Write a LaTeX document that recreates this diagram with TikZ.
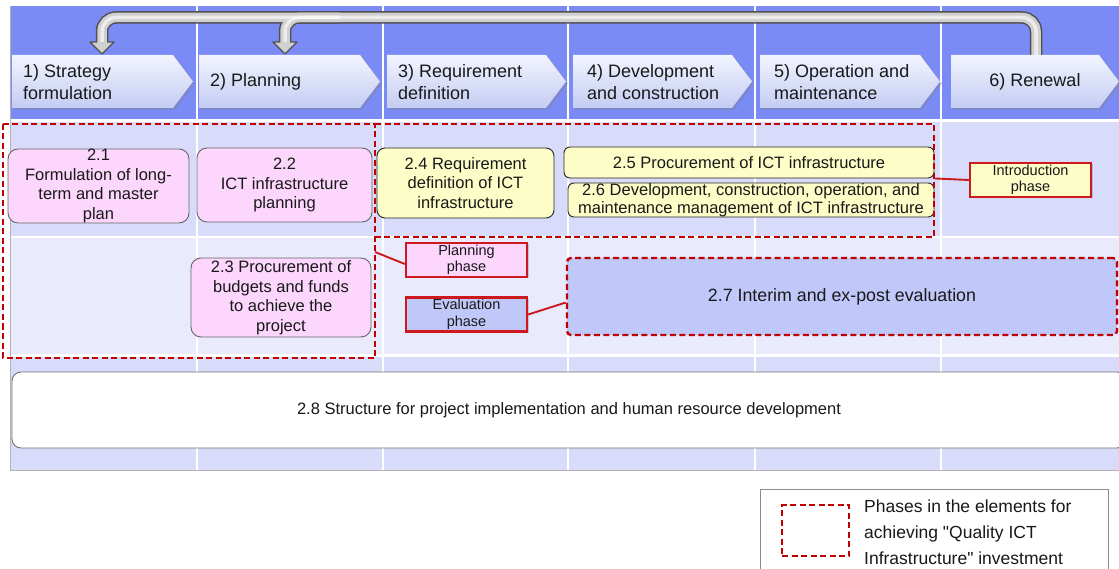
\documentclass[tikz,border=0pt]{standalone}
\usepackage{fontspec}
\setmainfont{Liberation Sans}[Ligatures=TeXOff]
\usetikzlibrary{shadows,calc}
\definecolor{hdr}{RGB}{122,139,245}
\definecolor{rowA}{RGB}{216,220,250}
\definecolor{rowB}{RGB}{233,235,252}
\definecolor{pinkf}{RGB}{252,214,252}
\definecolor{yelf}{RGB}{253,253,200}
\definecolor{bluef}{RGB}{192,200,250}
\definecolor{dred}{RGB}{192,0,0}
\definecolor{lred}{RGB}{205,25,30}
\definecolor{chevtop}{RGB}{242,244,254}
\definecolor{chevbot}{RGB}{196,204,243}
\definecolor{tubedark}{RGB}{80,80,80}
\definecolor{tubelight}{RGB}{208,208,208}
\begin{document}
\begin{tikzpicture}[x=1pt,y=-1pt,
  phasebox/.style={draw=dred, line width=2.4pt, dash pattern=on 6pt off 3.5pt},
  elem/.style={draw=black!60, line width=0.9pt, rounded corners=10pt, align=center, inner sep=0pt, text=black!90, font=\fontsize{16.5}{19.5}\selectfont},
  pinkbox/.style={elem, fill=pinkf},
  yelbox/.style={elem, fill=yelf, draw=black!85, rounded corners=8pt},
  tag/.style={draw=lred, line width=2.4pt, inner sep=0pt, align=center, text=black!90, font=\fontsize{14.5}{16.5}\selectfont, minimum width=121pt, minimum height=34pt, drop shadow={shadow xshift=1.5pt, shadow yshift=-1.5pt, opacity=0.35}},
  chev/.style={top color=chevtop, bottom color=chevbot, drop shadow={shadow xshift=2pt, shadow yshift=-2pt, opacity=0.35}},
  chevtext/.style={anchor=west, align=left, inner sep=0pt, text=black!90, font=\fontsize{18}{22}\selectfont},
  link/.style={draw=lred, line width=1.9pt},
  tubeout/.style={draw=tubedark, line width=12.5pt, rounded corners=14pt},
  tubein/.style={draw=tubelight, line width=9.5pt, rounded corners=14pt},
  tubehi/.style={draw=white, line width=3.5pt, rounded corners=14pt, opacity=0.6},
  arrowhd/.style={fill=tubelight, draw=tubedark, line width=1.3pt, line join=round},
]
\useasboundingbox (0,0) rectangle (1119,569);
\fill[white] (0,0) rectangle (1119,569);
% bands
\fill[hdr] (10,6) rectangle (1119,119);
\fill[rowA] (10,122) rectangle (1119,236);
\fill[rowB] (10,238.5) rectangle (1119,354);
\fill[rowA] (10,356.5) rectangle (1119,470);
\foreach \x in {197,383,568,755,941} \draw[white, line width=1.5pt] (\x,6) -- (\x,470);
\draw[black!30, line width=1pt] (10,6) -- (10,470) -- (1119,470);
% tubes
\draw[tubeout] (1036,60) -- (1036,17.5) -- (102,17.5) -- (102,44);
\draw[tubeout] (340,17.5) -- (285,17.5) -- (285,44);
\draw[arrowhd] (90,42) -- (114,42) -- (102,54) -- cycle;
\draw[arrowhd] (273,42) -- (297,42) -- (285,54) -- cycle;
\draw[tubein] (1036,60) -- (1036,17.5) -- (102,17.5) -- (102,44);
\draw[tubein] (340,17.5) -- (285,17.5) -- (285,44);
\draw[tubehi] (1036,60) -- (1036,17.5) -- (102,17.5) -- (102,42);
\draw[tubehi] (340,17.5) -- (285,17.5) -- (285,42);
% chevrons
\foreach \a/\b in {12/193, 199/380, 387/566, 573/752, 760/940}
  \path[chev] (\a,55) -- (\b-20,55) -- (\b,81.5) -- (\b-20,108) -- (\a,108) -- cycle;
\path[chev] (951,55) -- (1099,55) -- (1119,81.5) -- (1099,108) -- (951,108) -- cycle;
\node[chevtext] (p1) at (23,82) {1) Strategy\\formulation};
\node[chevtext] (p2) at (210,82) {2) Planning};
\node[chevtext] (p3) at (398,82) {3) Requirement\\definition};
\node[chevtext] (p4) at (587,82) {4) Development\\and construction};
\node[chevtext] (p5) at (774,82) {5) Operation and\\maintenance};
\node[chevtext, anchor=center, align=center] (p6) at (1035,82) {6) Renewal};
% elements
\node[pinkbox, minimum width=181pt, minimum height=74pt] (n21) at (98.5,186) {2.1\\Formulation of long-\\term and master\\plan};
\node[pinkbox, minimum width=175pt, minimum height=74pt] (n22) at (284.5,185) {2.2\\ICT infrastructure\\planning};
\node[pinkbox, minimum width=180pt, minimum height=79pt] (n23) at (281,297.5) {2.3 Procurement of\\budgets and funds\\to achieve the\\project};
\node[yelbox, minimum width=177pt, minimum height=70pt] (n24) at (465.5,183) {2.4 Requirement\\definition of ICT\\infrastructure};
\node[yelbox, rounded corners=6pt, minimum width=370pt, minimum height=31pt] (n25) at (749,162.5) {2.5 Procurement of ICT infrastructure};
\node[yelbox, rounded corners=6pt, minimum width=366pt, minimum height=34pt, font=\fontsize{16.5}{18.5}\selectfont] (n26) at (751,200) {2.6 Development, construction, operation, and\\maintenance management of ICT infrastructure};
\node[elem, phasebox, fill=bluef, rounded corners=4pt, minimum width=550pt, minimum height=77pt, font=\fontsize{17.8}{20}\selectfont] (n27) at (842,296.5) {2.7 Interim and ex-post evaluation};
\node[elem, fill=white, draw=black!55, rounded corners=9pt, minimum width=1114pt, minimum height=76pt] (n28) at (569,410) {2.8 Structure for project implementation and human resource development};
% phase regions
\draw[phasebox] (3,124) rectangle (375,358);
\draw[phasebox] (375,124) -- (934,124) -- (934,237) -- (375,237);
\coordinate (pj) at (375,252);
% tags
\node[tag, fill=yelf] (lintro) at (1030.5,180) {Introduction\\phase};
\node[tag, fill=pinkf] (lplan) at (466.5,260) {Planning\\phase};
\node[tag, fill=bluef] (leval) at (466.5,314.5) {Evaluation\\phase};
\draw[link] (n25.south east) -- (lintro.west);
\draw[link] (pj) -- ([yshift=-4pt]lplan.west);
\draw[link] (leval.east) -- ([yshift=-6pt]n27.west);
% legend
\node[draw=black!45, line width=1pt, minimum width=348pt, minimum height=100pt, inner sep=0pt] (lgbox) at (934,539) {};
\node[phasebox, line width=2pt, minimum width=67pt, minimum height=51pt, inner sep=0pt] (lgsample) at (815.5,530.5) {};
\node[anchor=north west, align=left, inner sep=0pt, text=black!90, font=\fontsize{17.5}{26}\selectfont] (lgtext) at (864,500) {Phases in the elements for\\achieving "Quality ICT\\Infrastructure" investment};
\end{tikzpicture}
\end{document}
